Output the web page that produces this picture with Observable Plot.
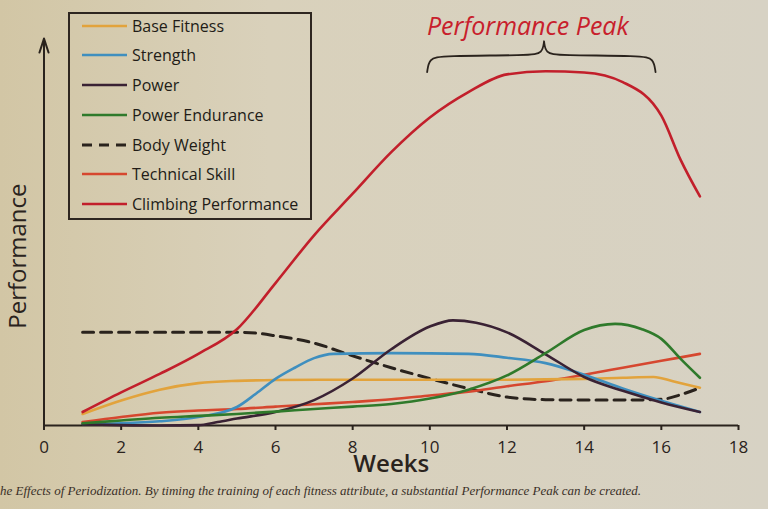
<!DOCTYPE html>
<html><head><meta charset="utf-8">
<script src="https://cdn.jsdelivr.net/npm/d3@7"></script>
<script src="https://cdn.jsdelivr.net/npm/@observablehq/plot@0.6"></script>
<style>
html,body{margin:0;padding:0;}
body{width:768px;height:509px;overflow:hidden;position:relative;background:linear-gradient(90deg,#d2c6a5 0%,#d9d1bb 35%,#d7d2c4 100%);font-family:"Open Sans",sans-serif;}
#chart{position:absolute;left:0;top:0;}
#legend{position:absolute;left:68px;top:12px;width:240px;height:204px;border:2px solid #2e2620;}
.item{position:absolute;left:12px;height:20px;display:flex;align-items:center;font-size:16px;font-weight:500;color:#221c17;white-space:nowrap;}
.item svg{margin-right:5px;}
#caption{position:absolute;left:0;top:484px;font-family:"Liberation Serif",serif;font-style:italic;font-size:13px;line-height:13px;color:#3a3028;white-space:nowrap;}
</style></head><body>
<div id="chart"></div>
<div id="legend"></div>
<div id="caption"></div>
<script>
// ---- data ----
const seriesNames = ["Base Fitness","Strength","Power","Power Endurance","Body Weight","Technical Skill","Climbing Performance"];
const seriesColors = ["#e2a33c","#3f8fbf","#3a2234","#2f7a2b","#1d1916","#d6472f","#c21f2b"];
const xTicks = [0,2,4,6,8,10,12,14,16,18];

const baseFitnessWeeks  = [1,2,3,4,5,6,8,10,12,14,15,15.8,16.3,17];
const baseFitnessValues = [3,6.5,9.3,11,11.6,11.8,11.9,11.9,11.9,12.1,12.4,12.6,11.5,9.8];

const strengthWeeks  = [1,2,3,4,5,5.5,6,6.5,7,7.5,9,11,12,13,14,15,16,17];
const strengthValues = [0.4,0.6,1.1,2.2,4.8,8.3,12.1,15,17.5,18.6,18.8,18.6,17.6,16.2,13.2,9.6,6.4,3.5];

const powerWeeks  = [1,2,3,4,4.5,5,6,7,8,9,10,10.6,11.2,12,13,14,15,16,17];
const powerValues = [0.3,0.1,0,0.1,0.9,1.8,3.5,6.6,12.2,19.8,25.7,27.3,26.7,24.2,18.5,12.6,9,6,3.5];

const enduranceWeeks  = [1,2,3,4,5,6,7,8,9,10,11,12,13,14,14.8,15.5,16,16.5,17];
const enduranceValues = [0.6,1.3,2,2.5,3,3.6,4.3,4.9,5.6,7,9.3,13,18.8,24.8,26.4,25,22.5,17.3,12.4];

const bodyWeightWeeks  = [1,2,3,4,5,5.5,6,7,8,9,10,11,12,13,14,15,16,16.5,17];
const bodyWeightValues = [24.2,24.2,24.2,24.2,24.2,24,23.3,21.4,18.1,15,12.2,9.6,7.4,6.7,6.6,6.6,6.8,8,9.8];

const technicalWeeks  = [1,2,3,4,5,6,7,8,9,10,11,12,13,14,15,16,17];
const technicalValues = [0.9,2.2,3.3,3.9,4.3,4.9,5.5,6.1,6.8,7.8,8.8,10.2,11.5,13.2,15,16.8,18.6];

const climbingWeeks  = [1,2,3,4,5,6,7,8,9,10,11,12,13,14,15,16,16.5,17];
const climbingValues = [3.5,8.6,13.4,18.6,25,37,49.4,60.2,71,80,86.6,91.2,92,91.7,89.2,80.5,69,59.5];

// annotation: "Performance Peak" brace (weeks / performance level)
const peakLabel = "Performance Peak";
const braceWeeks  = [9.93,9.98,10.3,12.6,12.92,12.96,12.96,12.96,13.0,13.32,15.5,15.8,15.85];
const braceLevels = [91.8,95.3,96.1,96.1,96.7,99.8,99.8,99.8,96.7,96.1,96.1,95.3,91.8];

const captionText = "he Effects of Periodization. By timing the training of each fitness attribute, a substantial Performance Peak can be created.";

// ---- build table ----
const seriesData = [
  [baseFitnessWeeks, baseFitnessValues],
  [strengthWeeks, strengthValues],
  [powerWeeks, powerValues],
  [enduranceWeeks, enduranceValues],
  [bodyWeightWeeks, bodyWeightValues],
  [technicalWeeks, technicalValues],
  [climbingWeeks, climbingValues]
];
const rows = [];
seriesData.forEach(([w, v], i) => w.forEach((wk, j) => rows.push({series: seriesNames[i], week: wk, value: v[j]})));
const brace = braceWeeks.map((w, i) => ({week: w, level: braceLevels[i]}));

const ink = "#2a231d";
const lineOrder = ["Technical Skill","Base Fitness","Strength","Power","Power Endurance","Climbing Performance"];

const marks = [
  Plot.ruleY([0], {x1: 0, x2: 18, stroke: ink, strokeWidth: 2}),
  Plot.arrow([0], {x1: 0, y1: 0, x2: 0, y2: 100.5, stroke: ink, strokeWidth: 2, headLength: 11, headAngle: 36}),
  Plot.axisX({ticks: xTicks, tickSize: 5, tickPadding: 10, fontSize: 17, stroke: ink, fill: ink, strokeWidth: 2, label: null}),
  Plot.text(["Weeks"], {frameAnchor: "bottom", lineAnchor: "middle", dy: 38.5, fontSize: 24, fontWeight: 600, fill: ink}),
  Plot.text(["Performance"], {x: 0, y: 44, textAnchor: "middle", lineAnchor: "middle", dx: -26, rotate: -90, fontSize: 24, fill: ink}),
  Plot.line(rows.filter(d => d.series === "Body Weight"), {x: "week", y: "value", stroke: ink, strokeWidth: 3, strokeDasharray: "11,7", curve: "monotone-x"}),
  ...lineOrder.map(s => Plot.line(rows.filter(d => d.series === s), {x: "week", y: "value", stroke: seriesColors[seriesNames.indexOf(s)], strokeWidth: 2.6, curve: "monotone-x"})),
  Plot.line(brace, {x: "week", y: "level", curve: "basis", stroke: ink, strokeWidth: 1.8}),
  Plot.text([peakLabel], {x: 12.54, y: 103.4, fontSize: 25, fontStyle: "italic", fill: "#c8202c"})
];

const chart = Plot.plot({
  width: 768, height: 480,
  marginLeft: 43.5, marginRight: 30, marginTop: 1.5, marginBottom: 55,
  x: {domain: [0, 18], axis: null},
  y: {domain: [0, 110], axis: null},
  style: {background: "transparent", fontFamily: "'Open Sans', sans-serif", color: ink, overflow: "visible"},
  marks
});
document.getElementById("chart").appendChild(chart);

// ---- legend ----
const legend = document.getElementById("legend");
seriesNames.forEach((name, i) => {
  const item = document.createElement("div");
  item.className = "item";
  item.style.top = (1.7 + i * 29.7) + "px";
  const dashed = name === "Body Weight";
  const color = dashed ? ink : seriesColors[i];
  item.innerHTML = `<svg width="45" height="6"><line x1="0" y1="3" x2="45" y2="3" stroke="${color}" stroke-width="${dashed ? 3 : 2.6}" ${dashed ? 'stroke-dasharray="10,7"' : ''}/></svg><span>${name}</span>`;
  legend.appendChild(item);
});
document.getElementById("caption").textContent = captionText;
</script></body></html>
